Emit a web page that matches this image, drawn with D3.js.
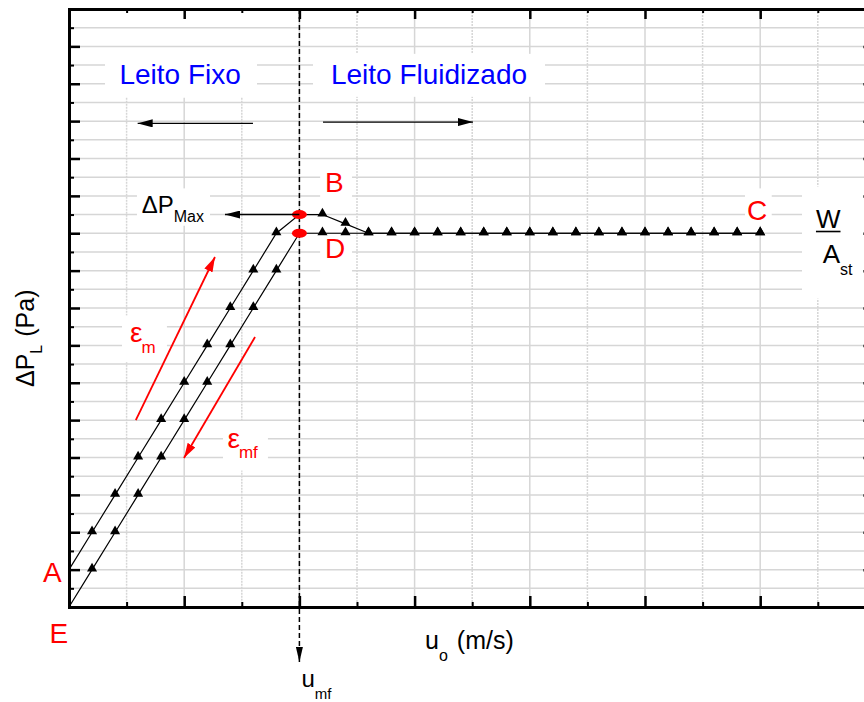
<!DOCTYPE html>
<html>
<head>
<meta charset="utf-8">
<script src="https://cdn.jsdelivr.net/npm/d3@7"></script>
<style>
  body { margin: 0; background: #fff; }
  svg { display: block; font-family: "Liberation Sans", Arial, sans-serif; }
</style>
</head>
<body>
<script>
// superficial velocity (arbitrary units, one major x tick = 1)
var upVel = [0, 0.2, 0.4, 0.6, 0.8, 1.0, 1.2, 1.4, 1.6, 1.8, 2.0, 2.2, 2.4, 2.6, 2.8, 3.0,
             3.2, 3.4, 3.6, 3.8, 4.0, 4.2, 4.4, 4.6, 4.8, 5.0, 5.2, 5.4, 5.6, 5.8, 6.0];
// pressure drop going up in velocity (A -> B -> C), one minor y tick = 1
var upDP = [2, 4, 6, 8, 10, 12, 14, 16, 18, 20, 21, 21, 20.5, 20, 20, 20,
            20, 20, 20, 20, 20, 20, 20, 20, 20, 20, 20, 20, 20, 20, 20];
var downVel = [0, 0.2, 0.4, 0.6, 0.8, 1.0, 1.2, 1.4, 1.6, 1.8, 2.0, 2.2, 2.4, 2.6, 2.8, 3.0,
               3.2, 3.4, 3.6, 3.8, 4.0, 4.2, 4.4, 4.6, 4.8, 5.0, 5.2, 5.4, 5.6, 5.8, 6.0];
// pressure drop coming back down (C -> D -> E)
var downDP = [0, 2, 4, 6, 8, 10, 12, 14, 16, 18, 20, 20, 20, 20, 20, 20,
              20, 20, 20, 20, 20, 20, 20, 20, 20, 20, 20, 20, 20, 20, 20];
var umf = 2.0;

var xMajorTicks = [0, 1, 2, 3, 4, 5, 6, 7];
var xMinorTicks = [0.5, 1.5, 2.5, 3.5, 4.5, 5.5, 6.5];
var yMajorTicks = [0, 2, 4, 6, 8, 10, 12, 14, 16, 18, 20, 22, 24, 26, 28, 30, 32];
var yMinorTicks = [1, 3, 5, 7, 9, 11, 13, 15, 17, 19, 21, 23, 25, 27, 29, 31];

var margin = {top: 9, left: 69},
    width = 806.4,
    height = 598;

var x = d3.scaleLinear().domain([0, 7]).range([margin.left, margin.left + width]);
var y = d3.scaleLinear().domain([0, 32]).range([margin.top + height, margin.top]);

var svg = d3.select("body").append("svg")
    .attr("width", 864)
    .attr("height", 702);

var defs = svg.append("defs");
function arrowMarker(id, color, len, wid) {
  defs.append("marker")
      .attr("id", id)
      .attr("viewBox", "0 0 10 10")
      .attr("preserveAspectRatio", "none")
      .attr("refX", 10).attr("refY", 5)
      .attr("markerUnits", "userSpaceOnUse")
      .attr("markerWidth", len).attr("markerHeight", wid)
      .attr("orient", "auto")
    .append("path")
      .attr("d", "M0,0L10,5L0,10z")
      .style("fill", color);
}
arrowMarker("blackArrow", "#000", 15, 8);
arrowMarker("redArrow", "#f00", 15, 9);
arrowMarker("dashArrow", "#000", 15, 7);

// grid
var grid = svg.append("g").attr("class", "grid");
grid.selectAll(".hgrid")
    .data(yMajorTicks.concat(yMinorTicks).filter(function(d) { return d > 0 && d < 32; }))
  .enter().append("line")
    .attr("x1", x(0)).attr("x2", x(7))
    .attr("y1", function(d) { return y(d); })
    .attr("y2", function(d) { return y(d); })
    .style("stroke", "#d6d6d6")
    .style("stroke-width", 1.5);

// vertical lines on the fixed-bed side stop below the "Leito Fixo" title
grid.selectAll(".vgrid")
    .data(xMajorTicks.concat(xMinorTicks).filter(function(d) { return d > 0 && d < 7; }))
  .enter().append("line")
    .attr("x1", function(d) { return x(d); })
    .attr("x2", function(d) { return x(d); })
    .attr("y1", function(d) { return d < umf ? y(27.25) : y(32); })
    .attr("y2", y(0))
    .style("stroke", "#d6d6d6")
    .style("stroke-width", 1.5)
    .style("stroke-dasharray", function(d) { return d % 1 === 0 ? null : "2,1"; });

// white backgrounds of the text labels (u0, v0, u1, v1)
var labelBoxes = [
  [0.3125, 29.6, 1.632, 27.3],   // Leito Fixo
  [2.118, 29.6, 4.132, 27.3],    // Leito Fluidizado
  [0.59, 22.4, 1.224, 20.4],     // dP max
  [2.18, 23.5, 2.457, 21.5],     // B
  [2.18, 19.6, 2.457, 17.4],     // D
  [5.868, 22.4, 6.10, 20.4],     // C
  [6.363, 22.5, 7.0, 16.5],      // W / Ast
  [0.46, 15.6, 0.85, 13.1],      // eps m
  [1.337, 9.95, 1.727, 7.3]      // eps mf
];
svg.append("g").selectAll("rect")
    .data(labelBoxes)
  .enter().append("rect")
    .attr("x", function(d) { return x(d[0]); })
    .attr("y", function(d) { return y(d[1]); })
    .attr("width", function(d) { return x(d[2]) - x(d[0]); })
    .attr("height", function(d) { return y(d[3]) - y(d[1]); })
    .style("fill", "#fff");

// axes: frame with inward ticks, no labels
function styleAxis(g, w) {
  g.select(".domain").style("stroke-width", 3).style("stroke-linecap", "square");
  g.selectAll(".tick line").style("stroke-width", w);
}
function minorAxis(g) {
  g.select(".domain").remove();
  g.selectAll(".tick line").style("stroke-width", 2);
}

svg.append("g")
    .attr("transform", "translate(0," + y(0) + ")")
    .call(d3.axisBottom(x).tickValues(xMajorTicks).tickSize(-11).tickSizeOuter(0).tickFormat(""))
    .call(styleAxis, 2.5);
svg.append("g")
    .attr("transform", "translate(0," + y(0) + ")")
    .call(d3.axisBottom(x).tickValues(xMinorTicks).tickSize(-5).tickFormat(""))
    .call(minorAxis);

svg.append("g")
    .attr("transform", "translate(0," + y(32) + ")")
    .call(d3.axisTop(x).tickValues(xMajorTicks).tickSize(-10).tickSizeOuter(0).tickFormat(""))
    .call(styleAxis, 2.5);
svg.append("g")
    .attr("transform", "translate(0," + y(32) + ")")
    .call(d3.axisTop(x).tickValues(xMinorTicks).tickSize(-4).tickFormat(""))
    .call(minorAxis);

svg.append("g")
    .attr("transform", "translate(" + x(0) + ",0)")
    .call(d3.axisLeft(y).tickValues(yMajorTicks).tickSize(-11).tickSizeOuter(0).tickFormat(""))
    .call(styleAxis, 2.5);
svg.append("g")
    .attr("transform", "translate(" + x(0) + ",0)")
    .call(d3.axisLeft(y).tickValues(yMinorTicks).tickSize(-5).tickFormat(""))
    .call(minorAxis);

svg.append("g")
    .attr("transform", "translate(" + x(7) + ",0)")
    .call(d3.axisRight(y).tickValues(yMajorTicks).tickSize(-12).tickSizeOuter(0).tickFormat(""))
    .call(styleAxis, 2.5);
svg.append("g")
    .attr("transform", "translate(" + x(7) + ",0)")
    .call(d3.axisRight(y).tickValues(yMinorTicks).tickSize(-6).tickFormat(""))
    .call(minorAxis);

// u_mf dashed line
svg.append("line")
    .attr("x1", x(umf)).attr("x2", x(umf))
    .attr("y1", y(32)).attr("y2", 662)
    .style("stroke", "#000")
    .style("stroke-width", 1.5)
    .style("stroke-dasharray", "5,3")
    .attr("marker-end", "url(#dashArrow)");

// data
var upData = upVel.map(function(v, i) { return {v: v, p: upDP[i]}; });
var downData = downVel.map(function(v, i) { return {v: v, p: downDP[i]}; });

var line = d3.line()
    .x(function(d) { return x(d.v); })
    .y(function(d) { return y(d.p); });

[upData, downData].forEach(function(series) {
  svg.append("path")
      .datum(series)
      .attr("d", line)
      .style("fill", "none")
      .style("stroke", "#000")
      .style("stroke-width", 1.2);

  svg.append("g").selectAll("path")
      .data(series.filter(function(d) { return d.v > 0 && d.v !== umf; }))
    .enter().append("path")
      .attr("d", d3.symbol().type(d3.symbolTriangle).size(44))
      .attr("transform", function(d) { return "translate(" + x(d.v) + "," + (y(d.p) - 1) + ")"; })
      .style("fill", "#000");

  svg.append("g").selectAll("ellipse")
      .data(series.filter(function(d) { return d.v === umf; }))
    .enter().append("ellipse")
      .attr("cx", function(d) { return x(d.v); })
      .attr("cy", function(d) { return y(d.p); })
      .attr("rx", 7.5).attr("ry", 4.5)
      .style("fill", "#f00");
});

// regime arrows
function arrow(u0, v0, u1, v1, marker, color, w) {
  svg.append("line")
      .attr("x1", x(u0)).attr("y1", y(v0))
      .attr("x2", x(u1)).attr("y2", y(v1))
      .style("stroke", color)
      .style("stroke-width", w)
      .attr("marker-end", "url(#" + marker + ")");
}
arrow(1.597, 25.88, 0.596, 25.88, "blackArrow", "#000", 1.3);
arrow(2.205, 25.95, 3.507, 25.95, "blackArrow", "#000", 1.3);
arrow(umf, 21, 1.354, 21, "blackArrow", "#000", 1.5);
arrow(0.58, 10.0, 1.267, 18.73, "redArrow", "#f00", 1.8);
arrow(1.615, 14.45, 0.998, 7.97, "redArrow", "#f00", 1.8);

// texts
function label(u, v, txt, size, color, anchor) {
  return svg.append("text")
      .attr("x", x(u)).attr("y", y(v))
      .style("font-size", size + "px")
      .style("fill", color)
      .style("text-anchor", anchor || "start")
      .text(txt);
}
label(0.965, 28, "Leito Fixo", 28, "#0000ff", "middle");
label(3.125, 28, "Leito Fluidizado", 28, "#0000ff", "middle");

label(2.222, 22.19, "B", 28, "#f00");
label(2.222, 18.67, "D", 28, "#f00");
label(5.885, 20.7, "C", 28, "#f00");
label(-0.063, 1.35, "A", 28, "#f00", "end");
label(-0.006, -1.94, "E", 28, "#f00", "end");

var dpmax = label(0.631, 21.08, "\u0394P", 24, "#000");
dpmax.append("tspan").attr("dy", 9).style("font-size", "16px").text("Max");

var em = label(0.53, 14.2, "\u03b5", 28, "#f00");
em.append("tspan").attr("dy", 11).attr("dx", -1).style("font-size", "17px").text("m");
var emf = label(1.375, 8.5, "\u03b5", 28, "#f00");
emf.append("tspan").attr("dy", 10).attr("dx", -1).style("font-size", "17px").text("mf");

var wTxt = label(6.484, 20.28, "W", 26, "#000");
var wLen = wTxt.node().getComputedTextLength();
svg.append("line")
    .attr("x1", x(6.484)).attr("x2", x(6.484) + wLen)
    .attr("y1", y(20.28) + 3.5).attr("y2", y(20.28) + 3.5)
    .style("stroke", "#000").style("stroke-width", 1.6);
var ast = label(6.543, 18.39, "A", 26, "#000");
ast.append("tspan").attr("dy", 12).style("font-size", "16px").text("st");

// axis titles
svg.append("text")
    .attr("x", 425).attr("y", 649)
    .style("font-size", "25px")
    .text("u")
  .append("tspan").attr("dy", 12).style("font-size", "16px").text("o")
  .select(function() { return this.parentNode; })
  .append("tspan").attr("dy", -12).attr("dx", 9).text("(m/s)");

svg.append("text")
    .attr("x", x(umf) + 2).attr("y", 687)
    .style("font-size", "24px")
    .text("u")
  .append("tspan").attr("dy", 12).style("font-size", "15px").text("mf");

var ylab = svg.append("text")
    .attr("transform", "translate(34,387) rotate(-90)")
    .style("font-size", "25px")
    .text("\u0394P");
ylab.append("tspan").attr("dy", 8).style("font-size", "16px").text("L");
ylab.append("tspan").attr("dy", -8).attr("dx", 8).text("(Pa)");
</script>
</body>
</html>
